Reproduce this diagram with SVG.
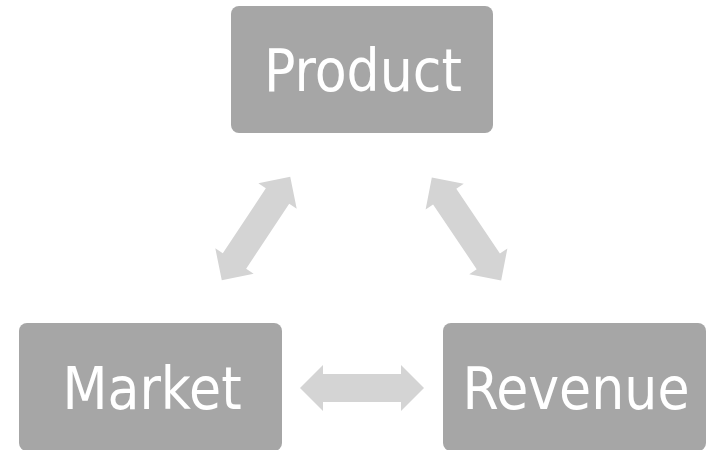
<svg xmlns="http://www.w3.org/2000/svg" width="707" height="450" viewBox="0 0 707 450">
  <defs>
    <style>
      .box { fill: #a6a6a6; }
      .lbl { fill: #ffffff; font-family: "DejaVu Sans Condensed", "DejaVu Sans", sans-serif; font-stretch: condensed; font-size: 58px; text-anchor: middle; }
      .arr { fill: #d4d4d4; }
    </style>
    <polygon id="dbl" points="-62,0 -39,-23 -39,-14 39,-14 39,-23 62,0 39,23 39,14 -39,14 -39,23"/>
  </defs>
  <rect width="707" height="450" fill="#ffffff"/>
  <g id="product">
    <rect class="box" x="231" y="6" width="262" height="127" rx="8"/>
    <text class="lbl" x="363" y="91">Product</text>
  </g>
  <g id="market">
    <rect class="box" x="19" y="323" width="263" height="128" rx="8"/>
    <text class="lbl" x="152" y="409">Market</text>
  </g>
  <g id="revenue">
    <rect class="box" x="443" y="323" width="263" height="128" rx="8"/>
    <text class="lbl" x="576" y="409">Revenue</text>
  </g>
  <g id="connectors" class="arr">
    <use href="#dbl" transform="translate(256,228.5) rotate(-56.5)"/>
    <use href="#dbl" transform="translate(466.5,229) rotate(56)"/>
    <use href="#dbl" transform="translate(362,388)"/>
  </g>
</svg>
